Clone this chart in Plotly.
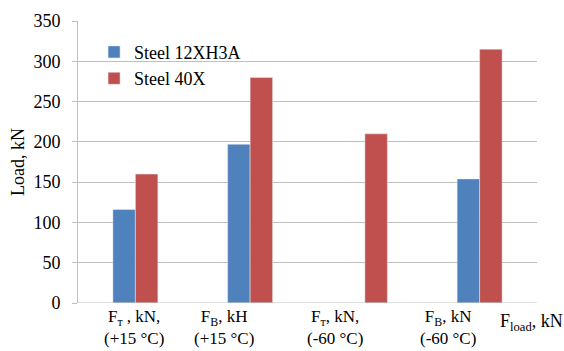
import plotly.graph_objects as go

categories = ["c1", "c2", "c3", "c4"]
label_line1 = ["F<sub>т</sub> , kN,", "F<sub>B</sub>, kH", "F<sub>т</sub>, kN,", "F<sub>B</sub>, kN"]
label_line2 = ["(+15 °C)", "(+15 °C)", "(-60 °C)", "(-60 °C)"]
steel_12xh3a = [116, 197, None, 154]
steel_40x = [160, 280, 210, 315]

# the category labels in the source are hand-placed text boxes, offset from the bar groups
label_shift = [-1, -26, -30, -32]

FONT = "Liberation Serif"
GRID = "#bfbfbf"

fig = go.Figure()
fig.add_trace(go.Bar(x=categories, y=steel_12xh3a, name="Steel 12XH3A", marker_color="#4F81BD"))
fig.add_trace(go.Bar(x=categories, y=steel_40x, name="Steel 40X", marker_color="#C0504D"))

annotations = []
for c, t1, t2, s in zip(categories, label_line1, label_line2, label_shift):
    annotations.append(dict(text=t1 + "<br>" + t2, xref="x", yref="paper", x=c, y=0,
                            xshift=s, yshift=-3, xanchor="center", yanchor="top",
                            align="center", showarrow=False, borderpad=0,
                            font=dict(family=FONT, size=17)))
annotations.append(dict(text="F<sub>load</sub>, kN", xref="paper", yref="paper",
                        x=0.9157, y=0, yshift=-19, xanchor="left", yanchor="middle",
                        showarrow=False, font=dict(family=FONT, size=18)))

fig.update_layout(
    width=564, height=351,
    margin=dict(l=78, r=27, t=21, b=48, autoexpand=False),
    paper_bgcolor="white", plot_bgcolor="white",
    font=dict(family=FONT, size=18, color="black"),
    barmode="group", bargap=0.608, bargroupgap=0,
    showlegend=True,
    legend=dict(x=0.035, y=0.955, xanchor="left", yanchor="top",
                bgcolor="rgba(0,0,0,0)", font=dict(family=FONT, size=18),
                itemwidth=30),
    xaxis=dict(tickmode="array", tickvals=categories, showticklabels=False,
               showgrid=False, showline=False, ticks="", automargin=False),
    yaxis=dict(title=dict(text="Load, kN", font=dict(size=18), standoff=4),
               range=[0, 350], dtick=50, showgrid=True, gridcolor=GRID,
               gridwidth=1, showline=True, linecolor=GRID, ticks="outside",
               ticklen=5, tickcolor=GRID, tickfont=dict(size=18), zeroline=False,
               automargin=False, ticklabelstandoff=8),
    annotations=annotations,
)
fig.add_shape(type="line", xref="paper", yref="y", x0=0, x1=1, y0=0, y1=0,
              line=dict(color=GRID, width=1))

fig.write_html("out.html", config={"displayModeBar": False},
               post_script="document.body.style.margin='0';document.body.style.overflow='hidden';")
